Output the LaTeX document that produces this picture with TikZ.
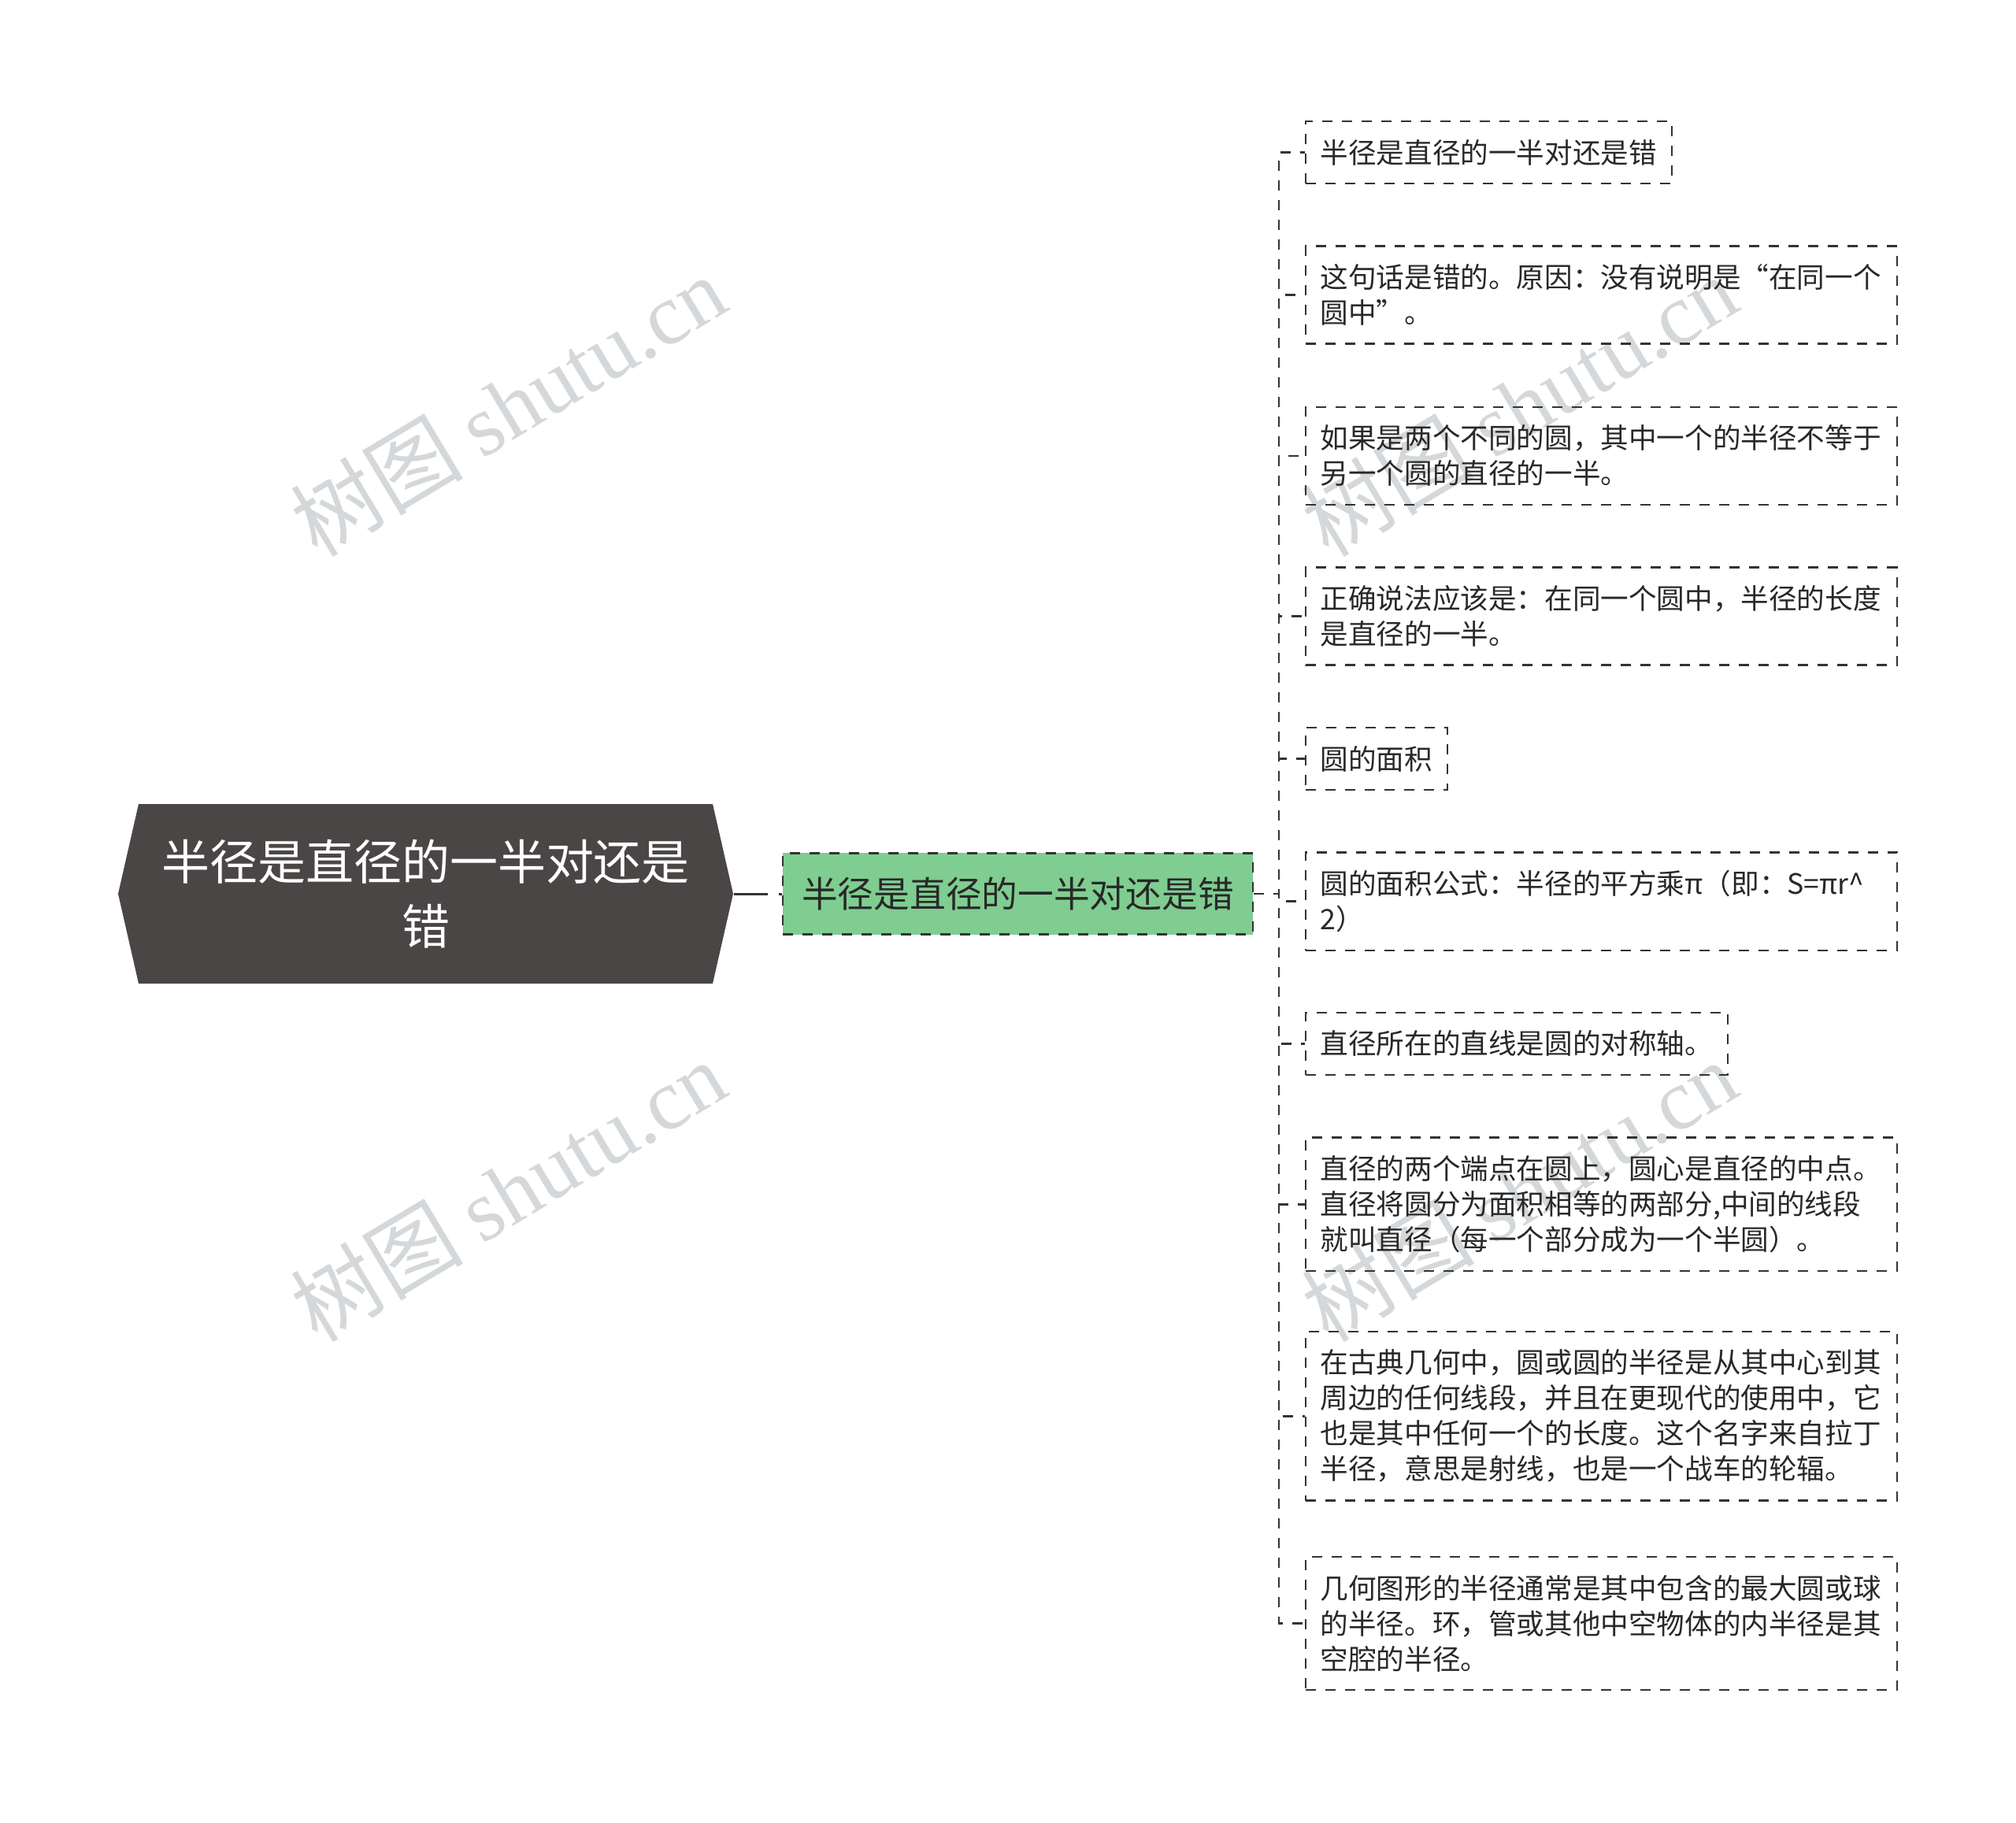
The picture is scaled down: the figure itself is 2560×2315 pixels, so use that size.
\documentclass[tikz,border=0pt]{standalone}
\usepackage{fontspec}
\setmainfont{Noto Sans CJK SC}
\newfontfamily\wmlat{Liberation Serif}
\definecolor{rootc}{RGB}{75,70,70}
\definecolor{greenc}{RGB}{127,205,145}
\definecolor{linec}{RGB}{51,51,51}
\definecolor{textc}{RGB}{40,40,40}
\definecolor{wmc}{RGB}{213,216,218}
\begin{document}
\begin{tikzpicture}[x=0.3pt,y=-0.3pt,
  leaf/.style={draw=linec, dash pattern=on 3.9pt off 3.6pt, line width=0.75pt,
    inner xsep=5.7pt, inner ysep=6.9pt, align=left, anchor=west, text=textc,
    font=\fontsize{10.68pt}{13.5pt}\selectfont},
  wide/.style={leaf, text width=213.9pt},
  mid/.style={draw=linec, fill=greenc, dash pattern=on 3.9pt off 3.6pt, line width=0.8pt,
    inner xsep=7.2pt, inner ysep=9.1pt, text=textc,
    font=\fontsize{13.72pt}{16pt}\selectfont},
  rootnode/.style={minimum width=234.3pt, minimum height=68.4pt, inner sep=0pt,
    align=center, text=white, font=\fontsize{18.3pt}{24.6pt}\selectfont},
  conn/.style={draw=linec, line width=0.75pt, dash pattern=on 3.9pt off 3.6pt},
  rootconn/.style={draw=linec, line width=0.9pt, dash pattern=on 12.9pt off 4.2pt on 1.8pt off 4pt},
  wm/.style={text=wmc, rotate=31, font=\fontsize{33pt}{38pt}\selectfont, inner sep=0pt}
]
\useasboundingbox (0,0) rectangle (2560,2315);
\fill[white] (0,0) rectangle (2560,2315);

% watermarks
\node[wm] (wm1) at (645,515) {树图 {\wmlat shutu.cn}};
\node[wm] (wm2) at (645,1512) {树图 {\wmlat shutu.cn}};
\node[wm] (wm3) at (1929,515) {树图 {\wmlat shutu.cn}};
\node[wm] (wm4) at (1929,1512) {树图 {\wmlat shutu.cn}};

% root hexagon
\fill[rootc] (150,1135) -- (176,1021) -- (905,1021) -- (931,1135) -- (905,1249) -- (176,1249) -- cycle;
\node[rootnode] (root) at (540.5,1135) {半径是直径的一半对还是\\错};

% middle node
\node[mid] (m) at (1292.5,1135) {半径是直径的一半对还是错};

% leaves
\node[leaf] (b1) at (1656.5,193.5) {半径是直径的一半对还是错};
\node[wide] (b2) at (1656.5,374.7) {这句话是错的。原因：没有说明是“在同一个\\圆中”。};
\node[wide] (b3) at (1656.5,578.8) {如果是两个不同的圆，其中一个的半径不等于\\另一个圆的直径的一半。};
\node[wide] (b4) at (1656.5,782.7) {正确说法应该是：在同一个圆中，半径的长度\\是直径的一半。};
\node[leaf] (b5) at (1656.5,963.5) {圆的面积};
\node[wide] (b6) at (1656.5,1144.7) {圆的面积公式：半径的平方乘π（即：S=πr\textasciicircum\\2）};
\node[leaf] (b7) at (1656.5,1325.3) {直径所在的直线是圆的对称轴。};
\node[wide] (b8) at (1656.5,1529.3) {直径的两个端点在圆上，圆心是直径的中点。\\直径将圆分为面积相等的两部分,中间的线段\\就叫直径（每一个部分成为一个半圆）。};
\node[wide] (b9) at (1656.5,1798.3) {在古典几何中，圆或圆的半径是从其中心到其\\周边的任何线段，并且在更现代的使用中，它\\也是其中任何一个的长度。这个名字来自拉丁\\半径，意思是射线，也是一个战车的轮辐。};
\node[wide] (b10) at (1656.5,2061.5) {几何图形的半径通常是其中包含的最大圆或球\\的半径。环，管或其他中空物体的内半径是其\\空腔的半径。};

% connectors
\draw[rootconn] (root.east) -- (m.west);
\coordinate (sp) at (1624,1135);
\foreach \b in {b1,b2,b3,b4,b5,b6,b7,b8,b9,b10}
  \draw[conn] (m.east) -- (sp) |- (\b.west);
\end{tikzpicture}
\end{document}
